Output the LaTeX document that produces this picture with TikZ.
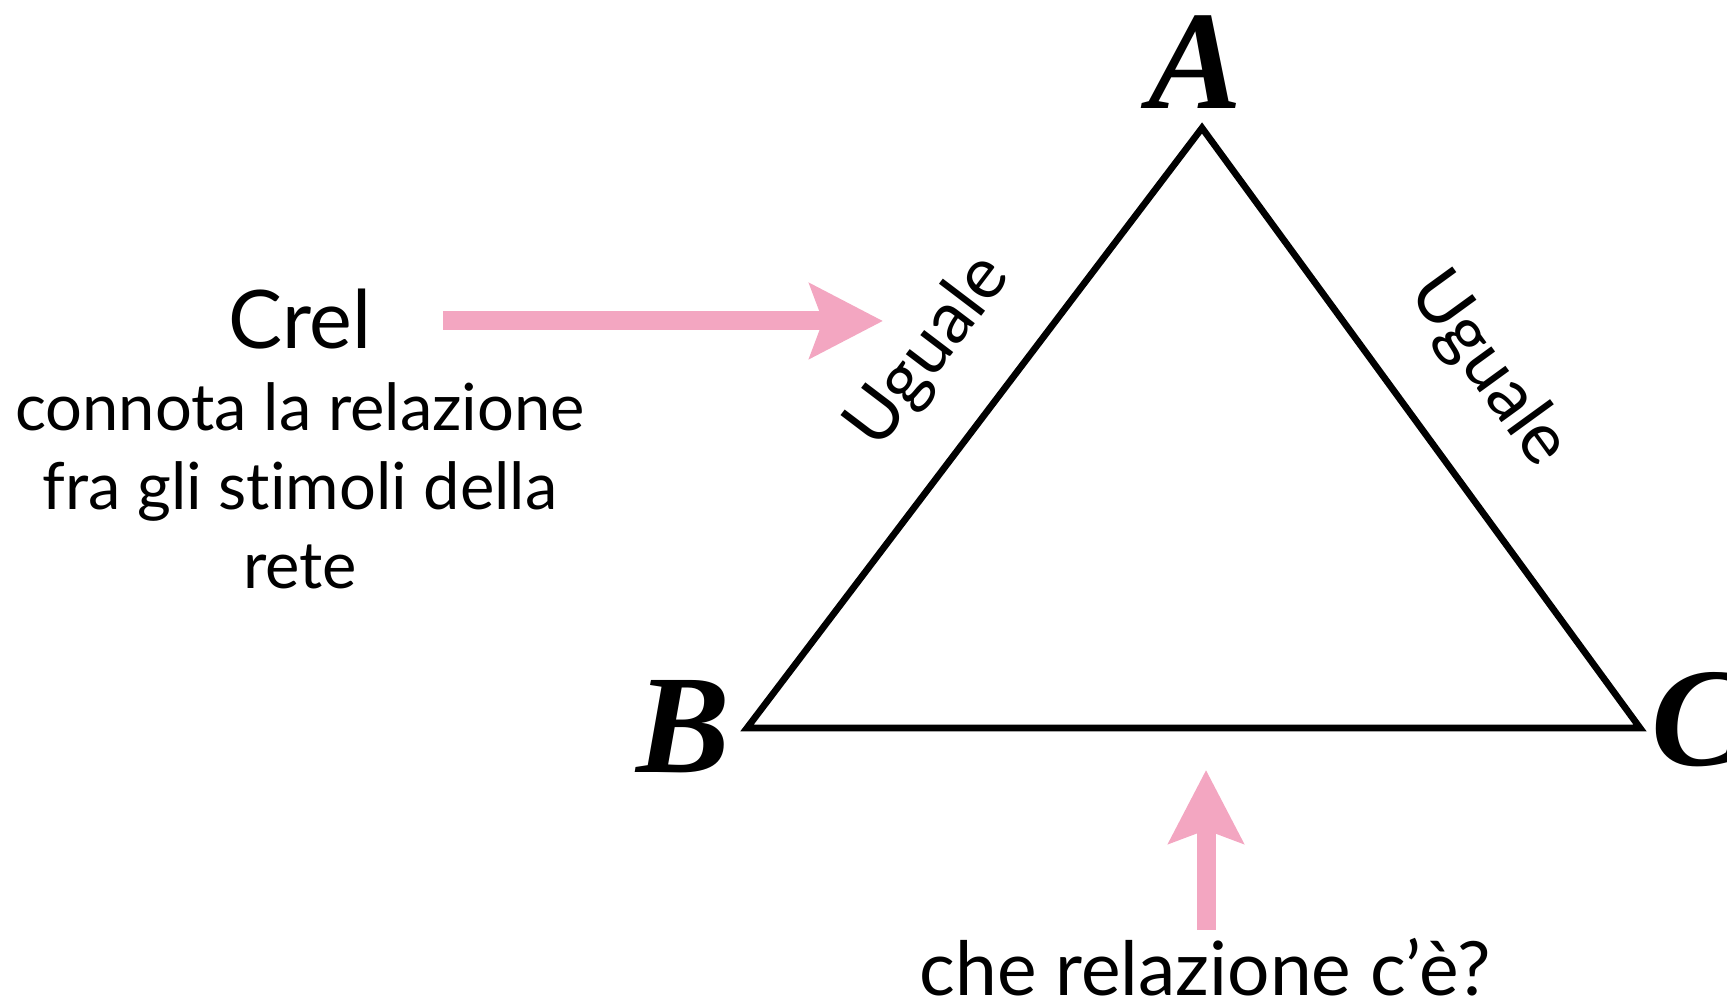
\documentclass[tikz,border=0pt]{standalone}
\usepackage{fontspec}
\setmainfont{Lato}[Ligatures=NoCommon]
\newfontfamily\vertexfont{Liberation Serif}
\usepackage{tikz}
\usetikzlibrary{arrows.meta,positioning}
\definecolor{relpink}{RGB}{243,166,193}

\begin{document}
\begin{tikzpicture}[
    vertexlabel/.style={font=\vertexfont\bfseries\itshape\fontsize{40}{40}\selectfont, inner sep=0pt},
    sidelabel/.style={font=\fontsize{20.5}{22}\selectfont, inner sep=0pt},
    pinkarrow/.style={relpink, line width=1.9mm, -{Stealth[length=7.3mm,width=7.4mm,inset=1.3mm]}}
]
    \useasboundingbox (0,0) rectangle (17.27,10);

    % the triangle
    \coordinate (A) at (12.02,8.72);
    \coordinate (B) at (7.47,2.72);
    \coordinate (C) at (16.40,2.72);
    \draw[line width=1.9pt, line join=miter] (A) -- (B) -- (C) -- cycle;

    \node[vertexlabel] (labA) at (11.95,9.38) {A};
    \node[vertexlabel] (labB) at (6.83,2.73) {B};
    \node[vertexlabel] (labC) at (16.98,2.80) {C};

    \node[sidelabel, rotate=52.8] (ugualeAB) at (9.29,6.48) {Uguale};
    \node[sidelabel, rotate=-54] (ugualeAC) at (14.88,6.30) {Uguale};

    % left text and its arrow
    \node[font=\fontsize{23}{26}\selectfont, inner sep=0pt] (crel) at (3.00,6.81) {Crel};
    \node[sidelabel, align=center, font=\fontsize{18.5}{22.5}\selectfont, below=0.32cm of crel] (crelnote)
        {connota la relazione\\fra gli stimoli della\\rete};
    \coordinate (crelstart) at (4.43,6.79);
    \coordinate (crelend) at (8.83,6.79);
    \draw[pinkarrow] (crelstart) -- (crelend);

    % bottom question and its arrow
    \node[sidelabel, font=\fontsize{21.3}{22}\selectfont] (question) at (12.05,0.33) {che relazione c’è?};
    \coordinate (qstart) at (12.06,0.70);
    \coordinate (qend) at (12.06,2.30);
    \draw[pinkarrow] (qstart) -- (qend);
\end{tikzpicture}
\end{document}
